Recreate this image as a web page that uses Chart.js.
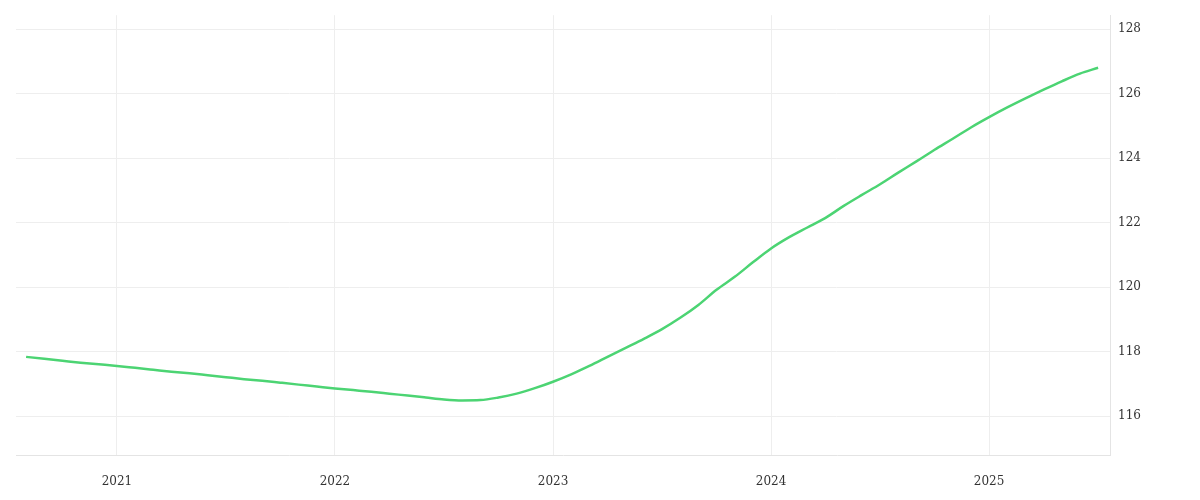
<!DOCTYPE html>
<html>
<head>
<meta charset="utf-8">
<script src="https://cdn.jsdelivr.net/npm/chart.js@4/dist/chart.umd.min.js"></script>
<style>
  html, body { margin: 0; padding: 0; background: #fff; }
  #wrap { width: 1200px; height: 500px; }
</style>
</head>
<body>
<div id="wrap"><canvas id="c"></canvas></div>
<script>
// monthly series, Aug 2020 .. Jul 2025
const startYear = 2020;
const startMonth = 8;
const values = [
  117.84, 117.78, 117.72, 117.66, 117.61,
  117.56, 117.50, 117.44, 117.38, 117.33, 117.27, 117.21, 117.15, 117.10, 117.04, 116.98, 116.92,
  116.86, 116.81, 116.76, 116.70, 116.64, 116.58, 116.52, 116.49, 116.50, 116.58, 116.70, 116.87,
  117.07, 117.30, 117.56, 117.84, 118.12, 118.40, 118.70, 119.05, 119.45, 119.92, 120.32, 120.77,
  121.20, 121.55, 121.85, 122.15, 122.52, 122.86, 123.19, 123.55, 123.90, 124.26, 124.60, 124.95,
  125.27, 125.57, 125.85, 126.12, 126.38, 126.62, 126.80, 126.87
].slice(0, 60);
const yearTicks = [2021, 2022, 2023, 2024, 2025];
const valueTicks = [116, 118, 120, 122, 124, 126, 128];

const points = values.map((v, i) => ({ x: startYear + (startMonth - 1 + i) / 12, y: v }));

new Chart(document.getElementById("c"), {
  type: "line",
  data: {
    datasets: [{
      data: points,
      borderColor: "#4cd473",
      borderWidth: 2.5,
      pointRadius: 0,
      cubicInterpolationMode: "monotone",
      fill: false
    }]
  },
  options: {
    responsive: true,
    maintainAspectRatio: false,
    animation: false,
    layout: { padding: { left: 16, top: 8, right: 51, bottom: -8 } },
    plugins: { legend: { display: false }, tooltip: { enabled: false } },
    scales: {
      x: {
        type: "linear",
        min: 2020.537,
        max: 2025.555,
        afterBuildTicks: (axis) => { axis.ticks = yearTicks.map(v => ({ value: v })); },
        grid: { color: "#eeeeee", drawTicks: false },
        border: { color: "#e4e4e4" },
        ticks: { color: "#333", font: { family: "DejaVu Serif", size: 12 }, padding: 19, callback: v => String(v) }
      },
      y: {
        position: "right",
        min: 114.78,
        max: 128.43,
        afterBuildTicks: (axis) => { axis.ticks = valueTicks.map(v => ({ value: v })); },
        grid: { color: "#eeeeee", drawTicks: false },
        border: { color: "#e4e4e4" },
        ticks: { color: "#333", font: { family: "DejaVu Serif", size: 12 }, padding: 8 }
      }
    }
  }
});
</script>
</body>
</html>
